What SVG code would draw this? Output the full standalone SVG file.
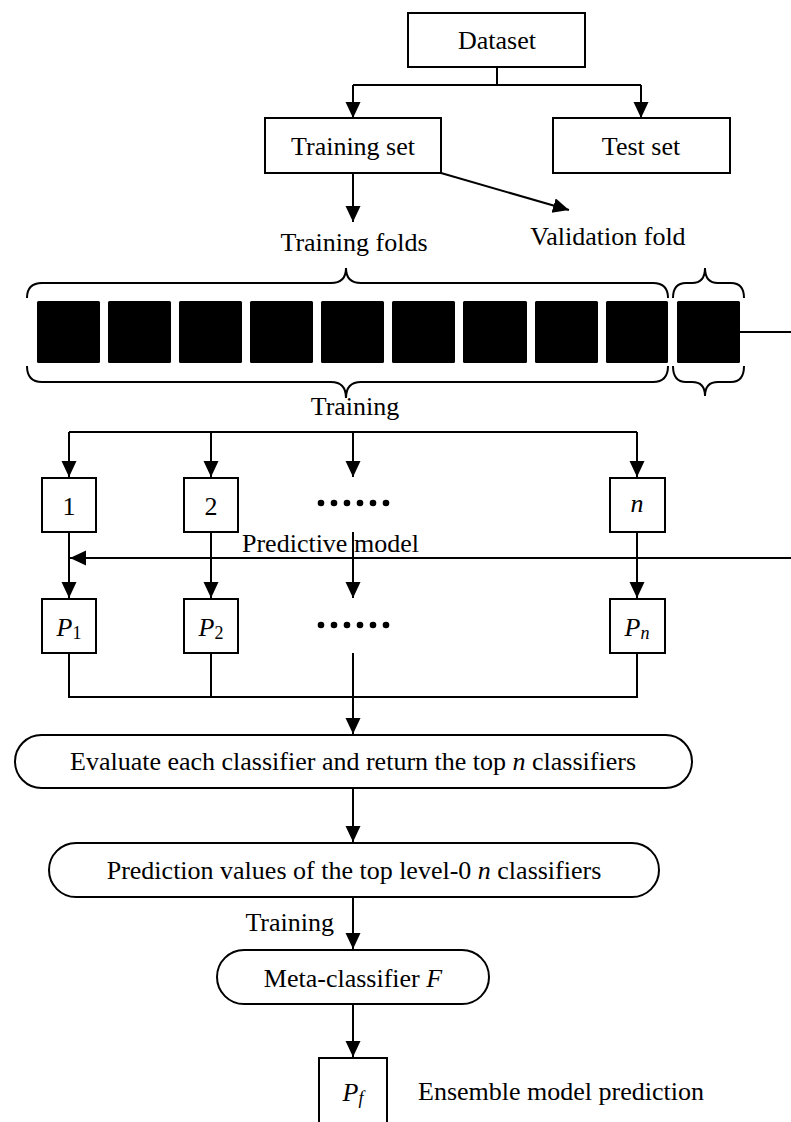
<svg xmlns="http://www.w3.org/2000/svg" width="791" height="1122" viewBox="0 0 791 1122">
<style>
text{font-family:"Liberation Serif","Times New Roman",serif;font-size:26px;fill:#000}
.c{text-anchor:middle}
.i{font-style:italic}
.box{fill:#fff;stroke:#000;stroke-width:2}
.ln{fill:none;stroke:#000;stroke-width:2}
.arr{fill:none;stroke:#000;stroke-width:2;marker-end:url(#ah)}
.sq{fill:#000}
</style>
<defs>
<marker id="ah" markerUnits="userSpaceOnUse" markerWidth="17" markerHeight="16" refX="16" refY="7.5" orient="auto">
<path d="M0,0 L16,7.5 L0,15 z" fill="#000"/>
</marker>
</defs>
<rect width="791" height="1122" fill="#fff"/>
<g id="connectors">
<polyline class="ln" points="497,67 497,85"/>
<polyline class="ln" points="353,85 641,85"/>
<line class="arr" x1="353" y1="85" x2="353" y2="118"/>
<line class="arr" x1="641" y1="85" x2="641" y2="118"/>
<line class="arr" x1="353" y1="173" x2="353" y2="222"/>
<line class="arr" x1="441" y1="173" x2="569" y2="210"/>
<line class="ln" x1="740" y1="332" x2="791" y2="332"/>
<line class="ln" x1="69" y1="432" x2="637" y2="432"/>
<line class="arr" x1="69" y1="432" x2="69" y2="477"/>
<line class="arr" x1="211" y1="432" x2="211" y2="477"/>
<line class="arr" x1="353" y1="432" x2="353" y2="477"/>
<line class="arr" x1="637" y1="432" x2="637" y2="477"/>
<line class="arr" x1="69" y1="532" x2="69" y2="598"/>
<line class="arr" x1="211" y1="532" x2="211" y2="598"/>
<line class="arr" x1="353" y1="532" x2="353" y2="598"/>
<line class="arr" x1="637" y1="532" x2="637" y2="598"/>
<line class="arr" x1="791" y1="558" x2="70" y2="558"/>
<polyline class="ln" points="69,653 69,697 637,697 637,653"/>
<line class="ln" x1="211" y1="653" x2="211" y2="697"/>
<line class="arr" x1="353" y1="653" x2="353" y2="734"/>
<line class="arr" x1="353" y1="788" x2="353" y2="842"/>
<line class="arr" x1="353" y1="897" x2="353" y2="949"/>
<line class="arr" x1="353" y1="1004" x2="353" y2="1057"/>
</g>
<g id="dataset"><rect class="box" x="408" y="13" width="177" height="54"/><text class="c" x="497" y="49">Dataset</text></g>
<g id="training-set"><rect class="box" x="265" y="118" width="176" height="55"/><text class="c" x="353" y="155">Training set</text></g>
<g id="test-set"><rect class="box" x="553" y="118" width="177" height="55"/><text class="c" x="641" y="155">Test set</text></g>
<g id="training-folds-label"><text class="c" x="354" y="251">Training folds</text></g>
<g id="validation-fold-label"><text class="c" x="608" y="245">Validation fold</text></g>
<g id="folds">
<rect class="sq" x="37" y="301" width="63" height="62" rx="1.5"/>
<rect class="sq" x="108" y="301" width="63" height="62" rx="1.5"/>
<rect class="sq" x="179" y="301" width="63" height="62" rx="1.5"/>
<rect class="sq" x="250" y="301" width="63" height="62" rx="1.5"/>
<rect class="sq" x="321" y="301" width="63" height="62" rx="1.5"/>
<rect class="sq" x="392" y="301" width="63" height="62" rx="1.5"/>
<rect class="sq" x="463" y="301" width="64" height="62" rx="1.5"/>
<rect class="sq" x="535" y="301" width="63" height="62" rx="1.5"/>
<rect class="sq" x="606" y="301" width="62" height="62" rx="1.5"/>
</g>
<g id="validation-fold"><rect class="sq" x="677" y="301" width="63" height="62" rx="1.5"/></g>
<g id="braces">
<path class="ln" d="M27,298 Q27,283 42,283 L331,283 Q346,283 346,268 Q346,283 361,283 L653,283 Q668,283 668,298"/>
<path class="ln" d="M27,366 Q27,382 42,382 L331,382 Q346,382 346,398 Q346,382 361,382 L653,382 Q668,382 668,366"/>
<path class="ln" d="M673,298 Q673,283 686,283 L692,283 Q705,283 705,268 Q705,283 718,283 L731,283 Q744,283 744,298"/>
<path class="ln" d="M673,366 Q673,382 686,382 L692,382 Q705,382 705,396 Q705,382 718,382 L731,382 Q744,382 744,366"/>
</g>
<g id="training-label"><text class="c" x="355" y="415">Training</text></g>
<g id="model-1"><rect class="box" x="42" y="478" width="54" height="54"/><text class="c" x="69" y="515">1</text></g>
<g id="model-2"><rect class="box" x="184" y="478" width="54" height="54"/><text class="c" x="211" y="515">2</text></g>
<g id="model-dots">
<circle cx="321" cy="503" r="3.3"/><circle cx="334" cy="503" r="3.3"/><circle cx="347" cy="503" r="3.3"/><circle cx="360" cy="503" r="3.3"/><circle cx="373" cy="503" r="3.3"/><circle cx="386" cy="503" r="3.3"/>
</g>
<g id="model-n"><rect class="box" x="610" y="478" width="55" height="54"/><text class="c i" x="637" y="512">n</text></g>
<g id="predictive-model-label"><text x="242" y="552">Predictive model</text></g>
<g id="p1"><rect class="box" x="42" y="599" width="54" height="54"/><text class="c" x="69" y="636"><tspan class="i">P</tspan><tspan font-size="18" dy="3">1</tspan></text></g>
<g id="p2"><rect class="box" x="184" y="599" width="54" height="54"/><text class="c" x="211" y="636"><tspan class="i">P</tspan><tspan font-size="18" dy="3">2</tspan></text></g>
<g id="p-dots">
<circle cx="321" cy="625" r="3.3"/><circle cx="334" cy="625" r="3.3"/><circle cx="347" cy="625" r="3.3"/><circle cx="360" cy="625" r="3.3"/><circle cx="373" cy="625" r="3.3"/><circle cx="386" cy="625" r="3.3"/>
</g>
<g id="pn"><rect class="box" x="610" y="599" width="55" height="54"/><text class="c" x="637" y="636"><tspan class="i">P</tspan><tspan class="i" font-size="18" dy="3">n</tspan></text></g>
<g id="evaluate"><rect class="box" x="15" y="735" width="677" height="53" rx="26.5"/><text class="c" x="353" y="770">Evaluate each classifier and return the top <tspan class="i">n</tspan> classifiers</text></g>
<g id="prediction-values"><rect class="box" x="49" y="843" width="610" height="54" rx="27"/><text class="c" x="354" y="879">Prediction values of the top level-0 <tspan class="i">n</tspan> classifiers</text></g>
<g id="training-label-2"><text x="334" y="931" text-anchor="end">Training</text></g>
<g id="meta-classifier"><rect class="box" x="217" y="950" width="272" height="54" rx="27"/><text class="c" x="353" y="987">Meta-classifier <tspan class="i">F</tspan></text></g>
<g id="pf"><rect class="box" x="319" y="1058" width="68" height="80"/><text class="c" x="353" y="1101"><tspan class="i">P</tspan><tspan class="i" font-size="18" dy="3">f</tspan></text></g>
<g id="ensemble-label"><text x="418" y="1100">Ensemble model prediction</text></g>
</svg>
